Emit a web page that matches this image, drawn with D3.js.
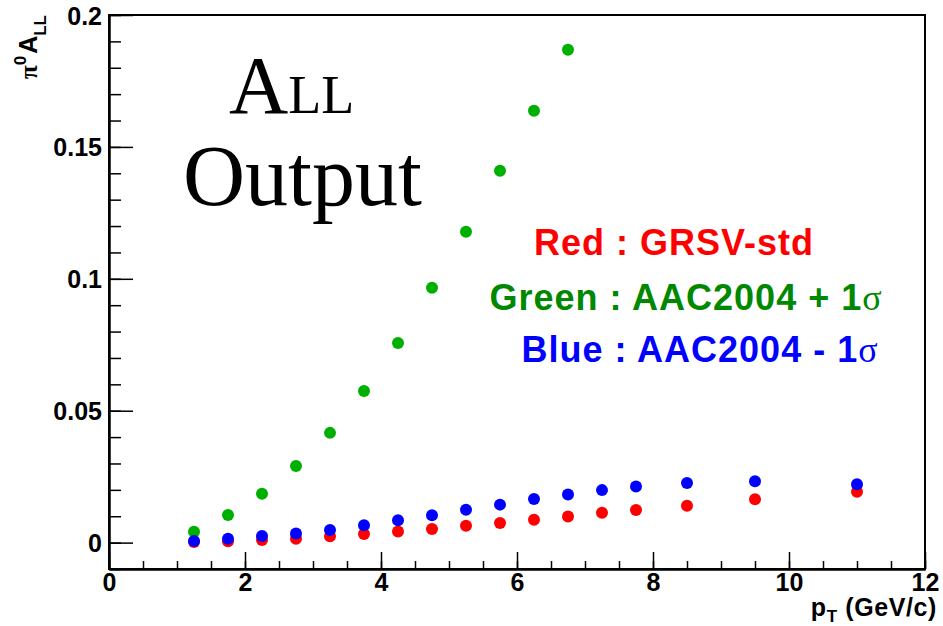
<!DOCTYPE html>
<html>
<head>
<meta charset="utf-8">
<script src="https://cdn.jsdelivr.net/npm/d3@7"></script>
<style>
  body { margin: 0; background: #fff; }
  svg { display: block; }
  .tick-label { font-family: "Liberation Sans", Arial, sans-serif; font-weight: bold; font-size: 25px; }
</style>
</head>
<body>
<script>
// pT bins of the points
const ptGreen = [1.25, 1.75, 2.25, 2.75, 3.25, 3.75, 4.25, 4.75, 5.25, 5.75, 6.25, 6.75];
const ptRB = [1.25, 1.75, 2.25, 2.75, 3.25, 3.75, 4.25, 4.75, 5.25, 5.75, 6.25, 6.75, 7.25, 7.75, 8.5, 9.5, 11.0];

// A_LL values
const allRed = [0.0002, 0.0005, 0.0010, 0.0015, 0.0024, 0.0033, 0.0042, 0.0052, 0.0064, 0.0074, 0.0087, 0.0099, 0.0113, 0.0124, 0.0140, 0.0164, 0.0193];
const allGreen = [0.0041, 0.0105, 0.0185, 0.0290, 0.0416, 0.0575, 0.0757, 0.0966, 0.1178, 0.1410, 0.1637, 0.1868];
const allBlue = [0.0006, 0.0015, 0.0025, 0.0035, 0.0048, 0.0066, 0.0085, 0.0104, 0.0125, 0.0144, 0.0165, 0.0182, 0.0199, 0.0213, 0.0226, 0.0233, 0.0221];

// ticks
const xMajor = [0, 2, 4, 6, 8, 10, 12];
const xMinor = d3.range(0, 12.01, 0.5);
const yMajor = [0, 0.05, 0.1, 0.15, 0.2];
const yMinor = d3.range(-0.01, 0.2001, 0.01);

const width = 943;
const height = 626;
const padL = 109, padR = 925, padT = 15, padB = 569;

let svg = d3.select("body").append("svg")
    .attr("width", width)
    .attr("height", height);

let x = d3.scaleLinear().domain([0, 12]).range([padL, padR]);
let y = d3.scaleLinear().domain([-0.01, 0.2]).range([padB, padT]);

// frame
svg.append("rect")
    .attr("x", padL)
    .attr("y", padT)
    .attr("width", padR - padL)
    .attr("height", padB - padT)
    .attr("fill", "none")
    .attr("stroke", "#000")
    .attr("stroke-width", 2);

// x axis: minor, then major with labels
svg.append("g")
    .attr("transform", `translate(0, ${padB})`)
    .call(d3.axisBottom(x).tickValues(xMinor).tickSizeInner(-8).tickSizeOuter(0).tickFormat(""));
let gx = svg.append("g")
    .attr("transform", `translate(0, ${padB})`)
    .call(d3.axisBottom(x).tickValues(xMajor).tickSizeInner(-17).tickSizeOuter(0).tickFormat(d3.format("d")));

// y axis
svg.append("g")
    .attr("transform", `translate(${padL}, 0)`)
    .call(d3.axisLeft(y).tickValues(yMinor).tickSizeInner(-12).tickSizeOuter(0).tickFormat(""));
let gy = svg.append("g")
    .attr("transform", `translate(${padL}, 0)`)
    .call(d3.axisLeft(y).tickValues(yMajor).tickSizeInner(-24).tickSizeOuter(0)
        .tickFormat((d) => String(+d.toFixed(2))));

svg.selectAll(".domain").attr("stroke", "#000").attr("stroke-width", 2);
svg.selectAll(".tick line").attr("stroke", "#000").attr("stroke-width", 1.5);
svg.selectAll("g").attr("font-family", null).attr("font-size", null);

gx.selectAll("text")
    .attr("class", "tick-label")
    .attr("y", 22)
    .attr("dy", 0)
    .attr("fill", "#000");
gy.selectAll("text")
    .attr("class", "tick-label")
    .attr("x", -7)
    .attr("dy", 9)
    .attr("fill", "#000");

// points
const series = [
    { pt: ptRB, vals: allRed, color: "#ff0000" },
    { pt: ptGreen, vals: allGreen, color: "#00b000" },
    { pt: ptRB, vals: allBlue, color: "#0000ff" }
];
series.map( (s) => {
    svg.append("g").selectAll("circle")
        .data(s.vals)
        .join("circle")
        .attr("cx", (d, i) => x(s.pt[i]))
        .attr("cy", (d) => y(d))
        .attr("r", 6)
        .attr("fill", s.color);
});

// axis titles
let xt = svg.append("text")
    .attr("x", 937)
    .attr("y", 616)
    .attr("text-anchor", "end")
    .attr("font-family", "Liberation Sans, Arial, sans-serif")
    .attr("font-weight", "bold")
    .attr("letter-spacing", 0.6)
    .attr("font-size", 25);
xt.append("tspan").text("p");
xt.append("tspan").attr("font-size", 17).attr("dy", 6).text("T");
xt.append("tspan").attr("dy", -6).text(" (GeV/c)");

let yt = svg.append("text")
    .attr("transform", "translate(37, 15) rotate(-90)")
    .attr("text-anchor", "end")
    .attr("font-family", "Liberation Sans, Arial, sans-serif")
    .attr("font-weight", "bold")
    .attr("font-size", 25);
yt.append("tspan").attr("font-family", "Liberation Serif, serif").text("π");
yt.append("tspan").attr("font-size", 17).attr("dy", -11).text("0");
yt.append("tspan").attr("dy", 11).attr("dx", 2).text("A");
yt.append("tspan").attr("font-size", 17).attr("dy", 9).text("LL");

// big label
let big = svg.append("text")
    .attr("x", 229)
    .attr("y", 113)
    .attr("font-family", "Liberation Serif, serif")
    .attr("font-size", 82);
big.append("tspan").text("A");
big.append("tspan").attr("font-size", 54).text("LL");

svg.append("text")
    .attr("x", 183)
    .attr("y", 205)
    .attr("font-family", "Liberation Serif, serif")
    .attr("font-size", 86)
    .text("Output");

// legend texts
const legend = [
    { label: "Red : GRSV-std", sigma: "", cx: 674, by: 255, color: "#ff0000" },
    { label: "Green : AAC2004 + 1", sigma: "σ", cx: 686, by: 310, color: "#008800" },
    { label: "Blue : AAC2004 - 1", sigma: "σ", cx: 700, by: 362, color: "#0000ff" }
];
legend.map( (l) => {
    let t = svg.append("text")
        .attr("x", l.cx)
        .attr("y", l.by)
        .attr("text-anchor", "middle")
        .attr("font-family", "Liberation Sans, Arial, sans-serif")
        .attr("font-weight", "bold")
        .attr("font-size", 36)
        .attr("letter-spacing", 1)
        .attr("fill", l.color);
    t.append("tspan").text(l.label);
    if (l.sigma) {
        t.append("tspan")
            .attr("font-family", "Liberation Serif, serif")
            .attr("font-weight", "normal")
            .text(l.sigma);
    }
});
</script>
</body>
</html>
